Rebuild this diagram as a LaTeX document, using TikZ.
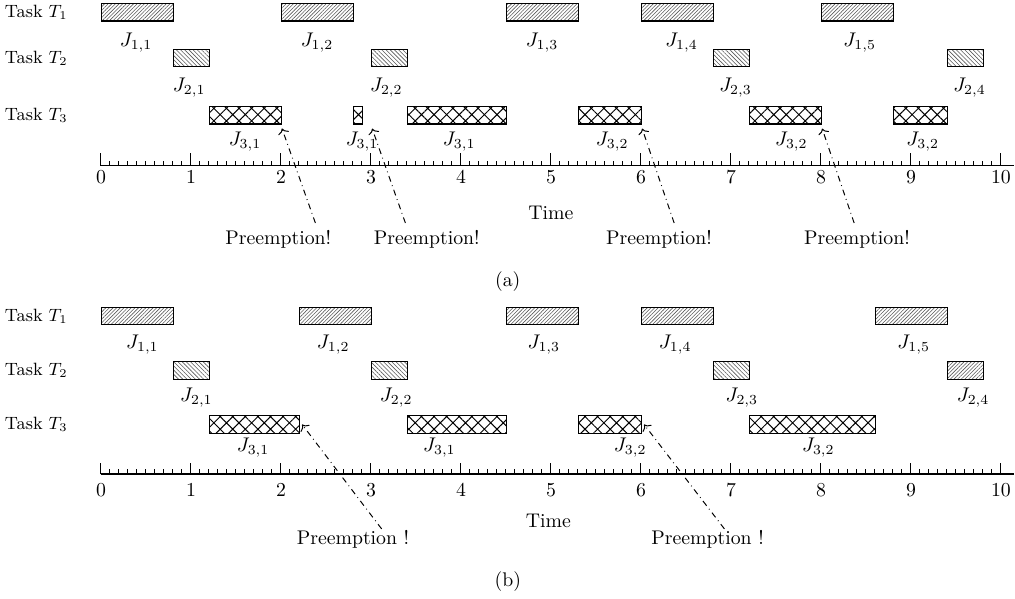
\documentclass[tikz,border=0pt]{standalone}
\usepackage{tikz}
\usetikzlibrary{patterns.meta,arrows.meta}

\tikzset{
  job/.style={draw, line width=0.6pt, anchor=west, minimum height=0.31cm, inner sep=0pt},
  dur/.style={minimum width=#1*1.6cm},
  jobone/.style={job, pattern={Lines[angle=45,distance=1.3pt,line width=0.3pt]}, pattern color=black!65},
  jobtwo/.style={job, pattern={Lines[angle=-45,distance=1.5pt,line width=0.3pt]}, pattern color=black!65},
  jobthree/.style={job, pattern={Hatch[angle=45,distance=4.5pt,line width=0.5pt]}},
  preempt/.style={dash dot, ->, line width=0.5pt},
  task/.style={anchor=east, inner sep=1pt, font=\fontsize{9}{11}\selectfont},
}

\begin{document}
\begin{tikzpicture}[x=1.6cm]
    \useasboundingbox (-1.122,0) rectangle (10.156,-10.649);

    % (a) task names
    \node[task] (ta1) at (-0.344,-0.22) {Task $T_1$};
    \node[task] (ta2) at (-0.344,-1.03) {Task $T_2$};
    \node[task] (ta3) at (-0.344,-2.05) {Task $T_3$};

    % (a) jobs of T1
    \node[jobone, dur=0.8] (a11) at (0,-0.22) {};
    \node[jobone, dur=0.8] (a12) at (2,-0.22) {};
    \node[jobone, dur=0.8] (a13) at (4.5,-0.22) {};
    \node[jobone, dur=0.8] (a14) at (6,-0.22) {};
    \node[jobone, dur=0.8] (a15) at (8,-0.22) {};
    \node (la11) at (0.39,-0.764) {$J_{1,1}$};
    \node (la12) at (2.4,-0.764) {$J_{1,2}$};
    \node (la13) at (4.9,-0.764) {$J_{1,3}$};
    \node (la14) at (6.45,-0.764) {$J_{1,4}$};
    \node (la15) at (8.43,-0.764) {$J_{1,5}$};

    % (a) jobs of T2
    \node[jobtwo, dur=0.4] (a21) at (0.8,-1.03) {};
    \node[jobtwo, dur=0.4] (a22) at (3,-1.03) {};
    \node[jobtwo, dur=0.4] (a23) at (6.8,-1.03) {};
    \node[jobtwo, dur=0.4] (a24) at (9.4,-1.03) {};
    \node (la21) at (0.98,-1.564) {$J_{2,1}$};
    \node (la22) at (3.17,-1.564) {$J_{2,2}$};
    \node (la23) at (7.05,-1.564) {$J_{2,3}$};
    \node (la24) at (9.65,-1.564) {$J_{2,4}$};

    % (a) jobs of T3
    \node[jobthree, dur=0.8] (a31) at (1.2,-2.05) {};
    \node[jobthree, dur=0.1] (a32) at (2.8,-2.05) {};
    \node[jobthree, dur=1.1] (a33) at (3.4,-2.05) {};
    \node[jobthree, dur=0.7] (a34) at (5.3,-2.05) {};
    \node[jobthree, dur=0.8] (a35) at (7.2,-2.05) {};
    \node[jobthree, dur=0.6] (a36) at (8.8,-2.05) {};
    \node (la31) at (1.6,-2.524) {$J_{3,1}$};
    \node (la32) at (2.9,-2.524) {$J_{3,1}$};
    \node (la33) at (3.98,-2.524) {$J_{3,1}$};
    \node (la34) at (5.68,-2.524) {$J_{3,2}$};
    \node (la35) at (7.67,-2.524) {$J_{3,2}$};
    \node (la36) at (9.13,-2.524) {$J_{3,2}$};

    % (a) time axis
    \draw[line width=0.6pt] (0,-2.946) -- (10.15,-2.946);
    \foreach \i in {0,...,100}
        \draw[line width=0.5pt] (\i/10,-2.946) -- ++(0,0.09);
    \foreach \i in {0,...,10} {
        \draw[line width=0.5pt] (\i,-2.946) -- ++(0,0.226);
        \node (na\i) at (\i,-3.147) {\i};
    }
    \node (timea) at (5,-3.787) {Time};

    % (a) preemptions
    \node (pa1) at (1.97,-4.249) {Preemption!};
    \node (pa2) at (3.62,-4.249) {Preemption!};
    \node (pa3) at (6.2,-4.249) {Preemption!};
    \node (pa4) at (8.4,-4.249) {Preemption!};
    \draw[preempt] ([xshift=0.66cm]pa1.north) -- ([yshift=-2pt]a31.south east);
    \draw[preempt] ([xshift=-0.38cm]pa2.north) -- ([xshift=0.16cm,yshift=-2pt]a32.south east);
    \draw[preempt] ([xshift=0.27cm]pa3.north) -- ([yshift=-2pt]a34.south east);
    \draw[preempt] ([xshift=-0.05cm]pa4.north) -- ([yshift=-2pt]a35.south east);
    \node (capa) at (4.52,-5.013) {(a)};

    % (b) task names
    \node[task] (tb1) at (-0.344,-5.618) {Task $T_1$};
    \node[task] (tb2) at (-0.344,-6.587) {Task $T_2$};
    \node[task] (tb3) at (-0.344,-7.547) {Task $T_3$};

    % (b) jobs of T1
    \node[jobone, dur=0.8] (b11) at (0,-5.618) {};
    \node[jobone, dur=0.8] (b12) at (2.2,-5.618) {};
    \node[jobone, dur=0.8] (b13) at (4.5,-5.618) {};
    \node[jobone, dur=0.8] (b14) at (6,-5.618) {};
    \node[jobone, dur=0.8] (b15) at (8.6,-5.618) {};
    \node (lb11) at (0.46,-6.133) {$J_{1,1}$};
    \node (lb12) at (2.58,-6.133) {$J_{1,2}$};
    \node (lb13) at (4.92,-6.133) {$J_{1,3}$};
    \node (lb14) at (6.38,-6.133) {$J_{1,4}$};
    \node (lb15) at (9.03,-6.133) {$J_{1,5}$};

    % (b) jobs of T2
    \node[jobtwo, dur=0.4] (b21) at (0.8,-6.587) {};
    \node[jobtwo, dur=0.4] (b22) at (3,-6.587) {};
    \node[jobtwo, dur=0.4] (b23) at (6.8,-6.587) {};
    \node[jobone, dur=0.4] (b24) at (9.4,-6.587) {};
    \node (lb21) at (1.06,-7.076) {$J_{2,1}$};
    \node (lb22) at (3.28,-7.076) {$J_{2,2}$};
    \node (lb23) at (7.12,-7.076) {$J_{2,3}$};
    \node (lb24) at (9.69,-7.076) {$J_{2,4}$};

    % (b) jobs of T3
    \node[jobthree, dur=1.0] (b31) at (1.2,-7.547) {};
    \node[jobthree, dur=1.1] (b32) at (3.4,-7.547) {};
    \node[jobthree, dur=0.7] (b33) at (5.3,-7.547) {};
    \node[jobthree, dur=1.4] (b34) at (7.2,-7.547) {};
    \node (lb31) at (1.69,-7.964) {$J_{3,1}$};
    \node (lb32) at (3.76,-7.964) {$J_{3,1}$};
    \node (lb33) at (5.88,-7.964) {$J_{3,2}$};
    \node (lb34) at (7.97,-7.964) {$J_{3,2}$};

    % (b) time axis
    \draw[line width=0.6pt] (0,-8.427) -- (10.15,-8.427);
    \foreach \i in {0,...,100}
        \draw[line width=0.5pt] (\i/10,-8.427) -- ++(0,0.09);
    \foreach \i in {0,...,10} {
        \draw[line width=0.5pt] (\i,-8.427) -- ++(0,0.196);
        \node (nb\i) at (\i,-8.711) {\i};
    }
    \node (timeb) at (4.97,-9.262) {Time};

    % (b) preemptions
    \node (pb1) at (2.8,-9.582) {Preemption !};
    \node (pb2) at (6.74,-9.582) {Preemption !};
    \draw[preempt] ([xshift=0.51cm,yshift=-3pt]pb1.north) -- ([xshift=1pt]b31.east);
    \draw[preempt] ([xshift=0.3cm,yshift=-3pt]pb2.north) -- ([xshift=1pt]b33.east);
    \node (capb) at (4.52,-10.347) {(b)};

\end{tikzpicture}
\end{document}
